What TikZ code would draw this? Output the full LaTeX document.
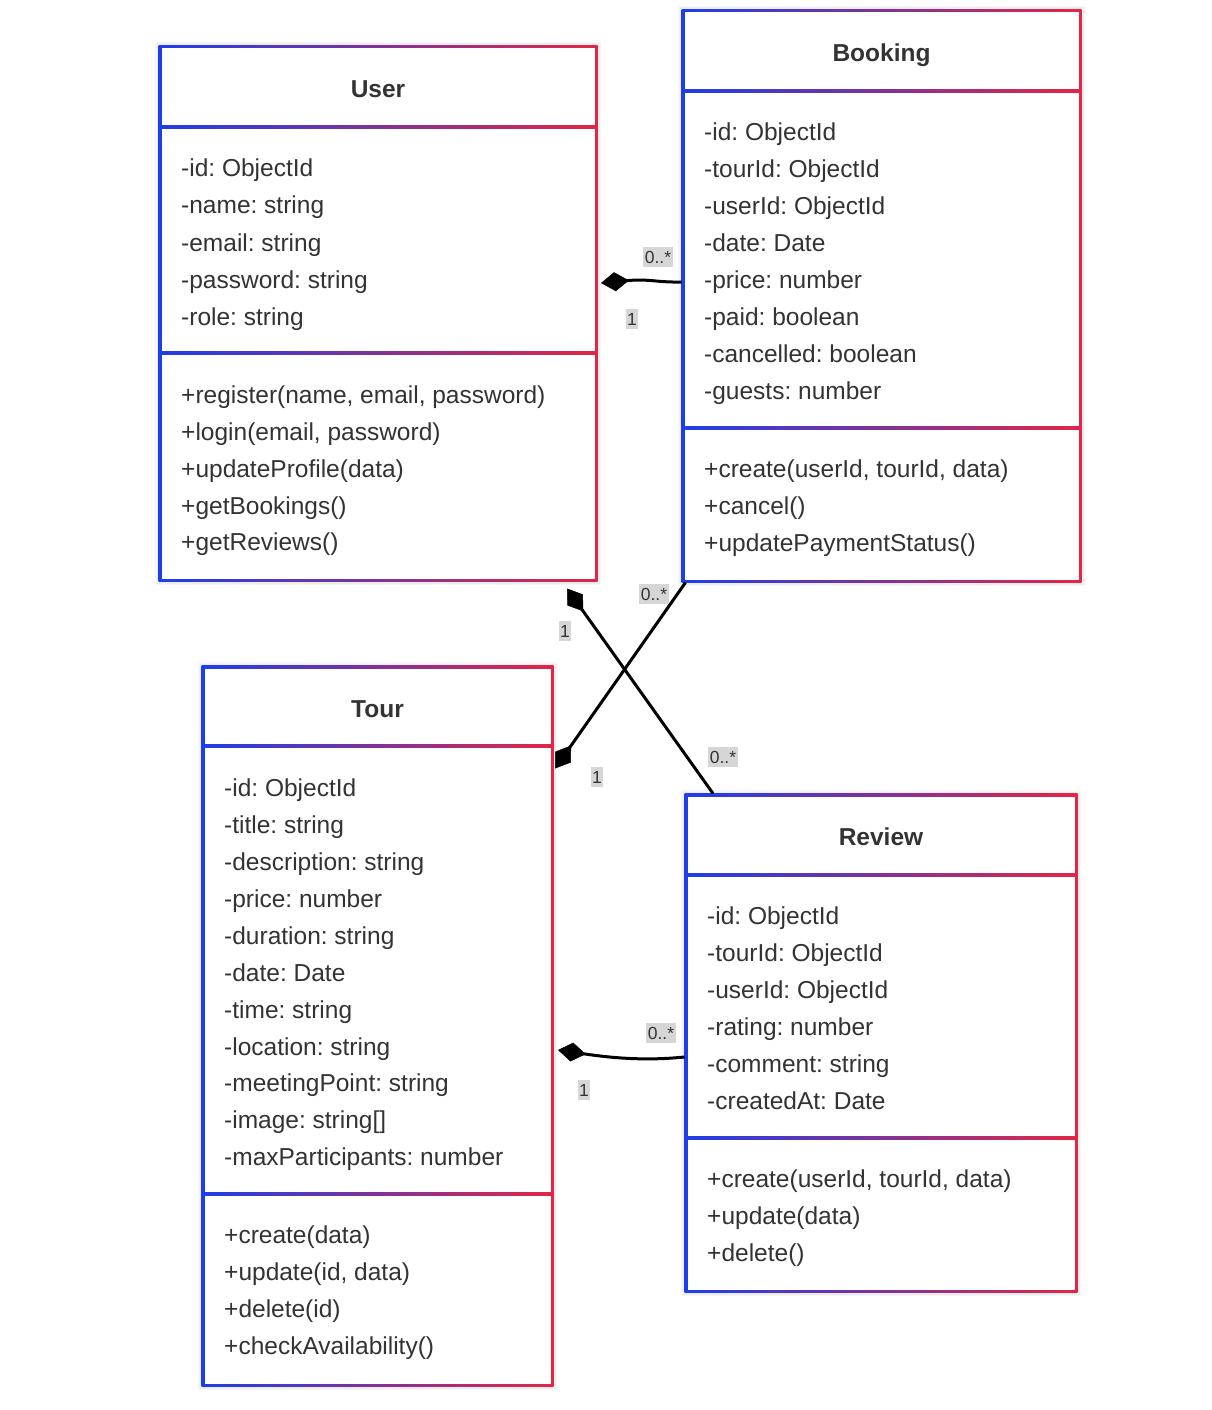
\documentclass[tikz,border=0pt]{standalone}
\usepackage{fontspec}
\setmainfont{Liberation Sans}
\usetikzlibrary{arrows.meta,calc}
\definecolor{cb}{RGB}{30,62,232}
\definecolor{cr}{RGB}{226,38,70}
\definecolor{tc}{RGB}{51,51,51}
\definecolor{lbg}{RGB}{214,214,214}
\frenchspacing
\tikzset{
  frame/.style={left color=cb, right color=cr, draw=none, inner sep=0pt, outer sep=0pt},
  grad/.style={left color=cb, right color=cr, draw=none},
  attr/.style={anchor=base west, inner sep=0pt, text=tc, font=\fontsize{24.5}{29}\selectfont},
  ctitle/.style={anchor=base, inner sep=0pt, text=tc, font=\fontsize{24.5}{29}\selectfont\bfseries},
  lab/.style={fill=lbg, text=tc, inner xsep=1.5pt, inner ysep=3.5pt, font=\fontsize{17.5}{18}\selectfont},
  conn/.style={line width=3pt, draw=black, -{Diamond[length=28pt,width=19pt,line width=0.5pt]}}
}
% #1 name, #2 x1, #3 y1, #4 x2, #5 y2, #6 divider 1, #7 divider 2
\newcommand\classbox[7]{%
  \fill[black,opacity=0.035] (#2-5,#3-5) rectangle (#4+5,#5+5);
  \fill[black,opacity=0.04] (#2-3.5,#3-3.5) rectangle (#4+3.5,#5+3.5);
  \node[frame, minimum width={#4-#2+3}, minimum height={#5-#3+3}] (#1) at ({(#2+#4)/2},{(#3+#5)/2}) {};
  \fill[white] (#2+1.5,#3+1.5) rectangle (#4-1.5,#5-1.5);
  \shade[grad] (#2,#6-1.5) rectangle (#4,#6+1.5);
  \shade[grad] (#2,#7-1.5) rectangle (#4,#7+1.5);
}
% #1 name prefix, #2 x, #3 first y (centre), #4 step, #5 list
\newcommand\memberlist[5]{%
  \foreach \t [count=\i] in {#5} {\node[attr] (#1\i) at (#2,{#3+#4*(\i-1)+8.7}) {\t};}
}
\begin{document}
\begin{tikzpicture}[x=1pt,y=-1pt]
\fill[white] (0,0) rectangle (1212,1410);
\useasboundingbox (0,0) rectangle (1212,1410);

% User
\classbox{user}{160}{47}{596}{580}{127}{353}
\node[ctitle] (user-t) at (378,97.7) {User};
\memberlist{ua}{181}{168}{37.2}{{-id: ObjectId},{-name: string},{-email: string},{-password: string},{-role: string}}
\memberlist{um}{181}{395}{36.8}{{+register(name, email, password)},{+login(email, password)},{+updateProfile(data)},{+getBookings()},{+getReviews()}}

% Booking
\classbox{booking}{683}{11}{1080}{581}{91}{428}
\node[ctitle] (booking-t) at (881.5,61.7) {Booking};
\memberlist{ba}{704}{132}{37}{{-id: ObjectId},{-tourId: ObjectId},{-userId: ObjectId},{-date: Date},{-price: number},{-paid: boolean},{-cancelled: boolean},{-guests: number}}
\memberlist{bm}{704}{469}{37}{{+create(userId, tourId, data)},{+cancel()},{+updatePaymentStatus()}}

% Tour
\classbox{tour}{203}{667}{552}{1385}{746}{1194}
\node[ctitle] (tour-t) at (377.5,717.7) {Tour};
\memberlist{ta}{224}{788}{36.9}{{-id: ObjectId},{-title: string},{-description: string},{-price: number},{-duration: string},{-date: Date},{-time: string},{-location: string},{-meetingPoint: string},{-image: string[]},{-maxParticipants: number}}
\memberlist{tm}{224}{1235}{37}{{+create(data)},{+update(id, data)},{+delete(id)},{+checkAvailability()}}

% Review
\classbox{review}{686}{795}{1076}{1291}{875}{1138}
\node[ctitle] (review-t) at (881,845.7) {Review};
\memberlist{ra}{707}{916}{37}{{-id: ObjectId},{-tourId: ObjectId},{-userId: ObjectId},{-rating: number},{-comment: string},{-createdAt: Date}}
\memberlist{rm}{707}{1179}{37}{{+create(userId, tourId, data)},{+update(data)},{+delete()}}

% connector anchors
\coordinate (y1) at (0,282);
\coordinate (y4) at (0,1057);
\coordinate (c1e) at ($(user.east |- y1)+(3.5,1)$);
\coordinate (c2e) at ($(user.south)+(189,7)$);
\coordinate (c3e) at ($(tour.north east)+(1.5,103)$);
\coordinate (c4e) at ($(tour.east |- y4)+(4.5,-7)$);

% Booking -> User
\draw[conn] (booking.west |- y1) .. controls (655,282.5) and (650,278.5) .. (c1e);
% Review -> User
\draw[conn] ($(review.north west)+(28.5,0)$) -- (c2e);
% Booking -> Tour
\draw[conn] ($(booking.south west)+(4,0)$) -- (c3e);
% Review -> Tour
\draw[conn] (review.west |- y4) .. controls (645,1061) and (612,1058) .. (c4e);

% multiplicity labels
\node[lab] (l1a) at (658,257) {0..*};
\node[lab] (l1b) at (632,319) {1};
\node[lab] (l2a) at (565,631) {1};
\node[lab] (l2b) at (723,757) {0..*};
\node[lab] (l3a) at (654,594) {0..*};
\node[lab] (l3b) at (597,777) {1};
\node[lab] (l4a) at (661,1033) {0..*};
\node[lab] (l4b) at (584,1090) {1};
\end{tikzpicture}
\end{document}
